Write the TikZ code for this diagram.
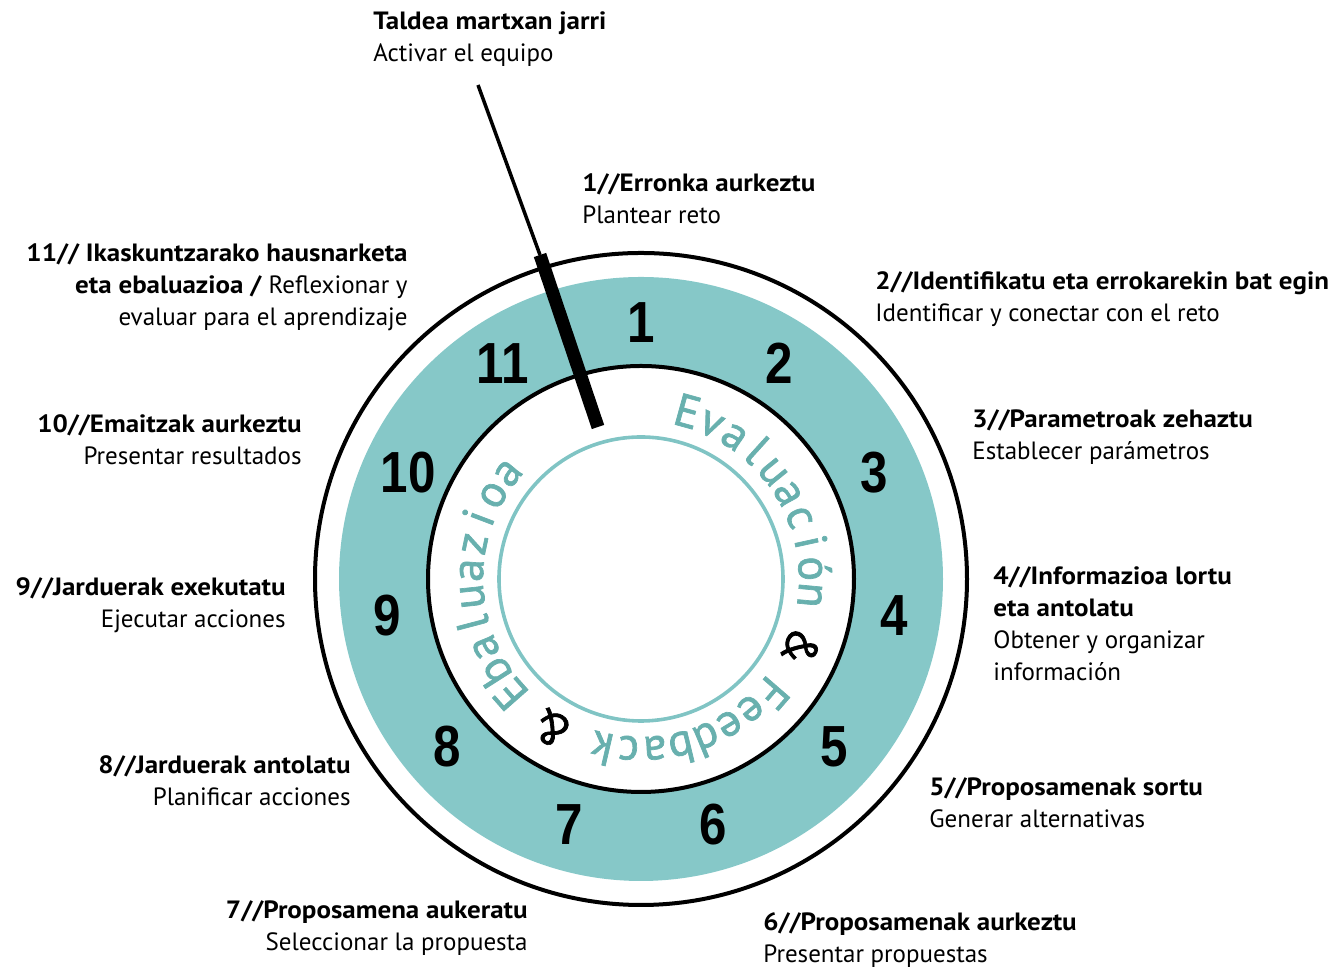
\documentclass[tikz,border=0pt]{standalone}
\usepackage{fontspec}
\setmainfont{PT Sans}[BoldFeatures={FakeStretch=1.08}]
\newfontfamily\numfont{Liberation Sans}
\newfontfamily\ringfam{PT Sans}[FakeBold=1.5]
\usetikzlibrary{positioning}

\definecolor{ringteal}{RGB}{134,200,200}
\definecolor{textteal}{RGB}{104,176,174}
\definecolor{lineteal}{RGB}{128,196,196}

\newcommand{\lblfont}{\fontsize{12.5}{16}\selectfont}
\newcommand{\ringsize}{\ringfam\fontsize{23}{25}\selectfont}
\newlength{\chw}
% letters round the dial, clockwise from the top
\def\ringlist{E/textteal,v/textteal,a/textteal,l/textteal,u/textteal,a/textteal,c/textteal,i/textteal,ó/textteal,n/textteal,
  {\ }/white,{\&}/black,{\ }/white,
  F/textteal,e/textteal,e/textteal,d/textteal,b/textteal,a/textteal,c/textteal,k/textteal,
  {\ }/white,{\&}/black,{\ }/white,
  E/textteal,b/textteal,a/textteal,l/textteal,u/textteal,a/textteal,z/textteal,i/textteal,o/textteal,a/textteal}

\begin{document}
\begin{tikzpicture}[x=0.5pt,y=0.5pt,
    lbl/.style={font=\lblfont,inner sep=0pt,align=left,anchor=north west},
    lblr/.style={font=\lblfont,inner sep=0pt,align=right,anchor=north east},
    num/.style={font=\numfont\bfseries\fontsize{29}{29}\selectfont,inner sep=0pt},
    ringchar/.style={font=\ringsize,inner sep=0pt,anchor=base}]
  \useasboundingbox (0,0) rectangle (1335,967);

  % dial
  \begin{scope}[shift={(641,388)}]
    \coordinate (c) at (0,0);
    \fill[ringteal,even odd rule] (c) circle[radius=302] (c) circle[radius=213];
    \draw[line width=2pt] (c) circle[radius=326];
    \draw[line width=2pt] (c) circle[radius=213];
    \draw[lineteal,line width=1.8pt] (c) circle[radius=142];
    \foreach \k in {1,...,11}
      \node[num] (n\k) at ({90-(\k-1)*360/11}:256) {\scalebox{0.85}[1]{\k}};
    % text on the white band
    \gdef\ringtot{0}
    \foreach \ch/\col in \ringlist {
      \settowidth{\chw}{\ringsize\ch}
      \pgfmathsetmacro\tmp{\ringtot+\chw}
      \global\let\ringtot\tmp
    }
    \pgfmathsetmacro\track{(79*pi/180*293-\ringtot)/33}
    \gdef\ringcum{0}
    \foreach \ch/\col [count=\i] in \ringlist {
      \settowidth{\chw}{\ringsize\ch}
      \pgfmathsetmacro\ang{74.5-(\ringcum+0.5*\chw)/79*180/pi}
      \node[ringchar,text=\col,rotate=\ang-90] (r\i) at (\ang:158) {\ch};
      \pgfmathsetmacro\tmp{\ringcum+\chw+\track}
      \global\let\ringcum\tmp
    }
  \end{scope}

  % steps
  \node[lbl]  (start) at (373,956) {\textbf{Taldea martxan jarri}\\Activar el equipo};
  \node[lbl]  (s1)  at (582,794) {\textbf{1//Erronka aurkeztu}\\Plantear reto};
  \node[lbl]  (s2)  at (875,696) {\textbf{2//Identifikatu eta errokarekin bat egin}\\Identificar y conectar con el reto};
  \node[lbl]  (s3)  at (972,558) {\textbf{3//Parametroak zehaztu}\\Establecer parámetros};
  \node[lbl]  (s4)  at (993,401) {\textbf{4//Informazioa lortu}\\\textbf{eta antolatu}\\Obtener y organizar\\información};
  \node[lbl]  (s5)  at (929,190) {\textbf{5//Proposamenak sortu}\\Generar alternativas};
  \node[lbl]  (s6)  at (763,55)  {\textbf{6//Proposamenak aurkeztu}\\Presentar propuestas};
  \node[lblr] (s7)  at (528,67)  {\textbf{7//Proposamena aukeratu}\\Seleccionar la propuesta};
  \node[lblr] (s8)  at (351,212) {\textbf{8//Jarduerak antolatu}\\Planificar acciones};
  \node[lblr] (s9)  at (286,390) {\textbf{9//Jarduerak exekutatu}\\Ejecutar acciones};
  \node[lblr] (s10) at (302,553) {\textbf{10//Emaitzak aurkeztu}\\Presentar resultados};
  \node[lblr] (s11) at (408,724) {\textbf{11// Ikaskuntzarako hausnarketa}\\\textbf{eta ebaluazioa /} Reflexionar y\\evaluar para el aprendizaje};

  % needle
  \coordinate (lead) at (478,882);
  \coordinate (hub)  at (540,712);
  \coordinate (tip)  at (598,540);
  \draw[line width=1.75pt] (lead) -- (hub);
  \draw[line width=6.5pt] (hub) -- (tip);
\end{tikzpicture}
\end{document}
